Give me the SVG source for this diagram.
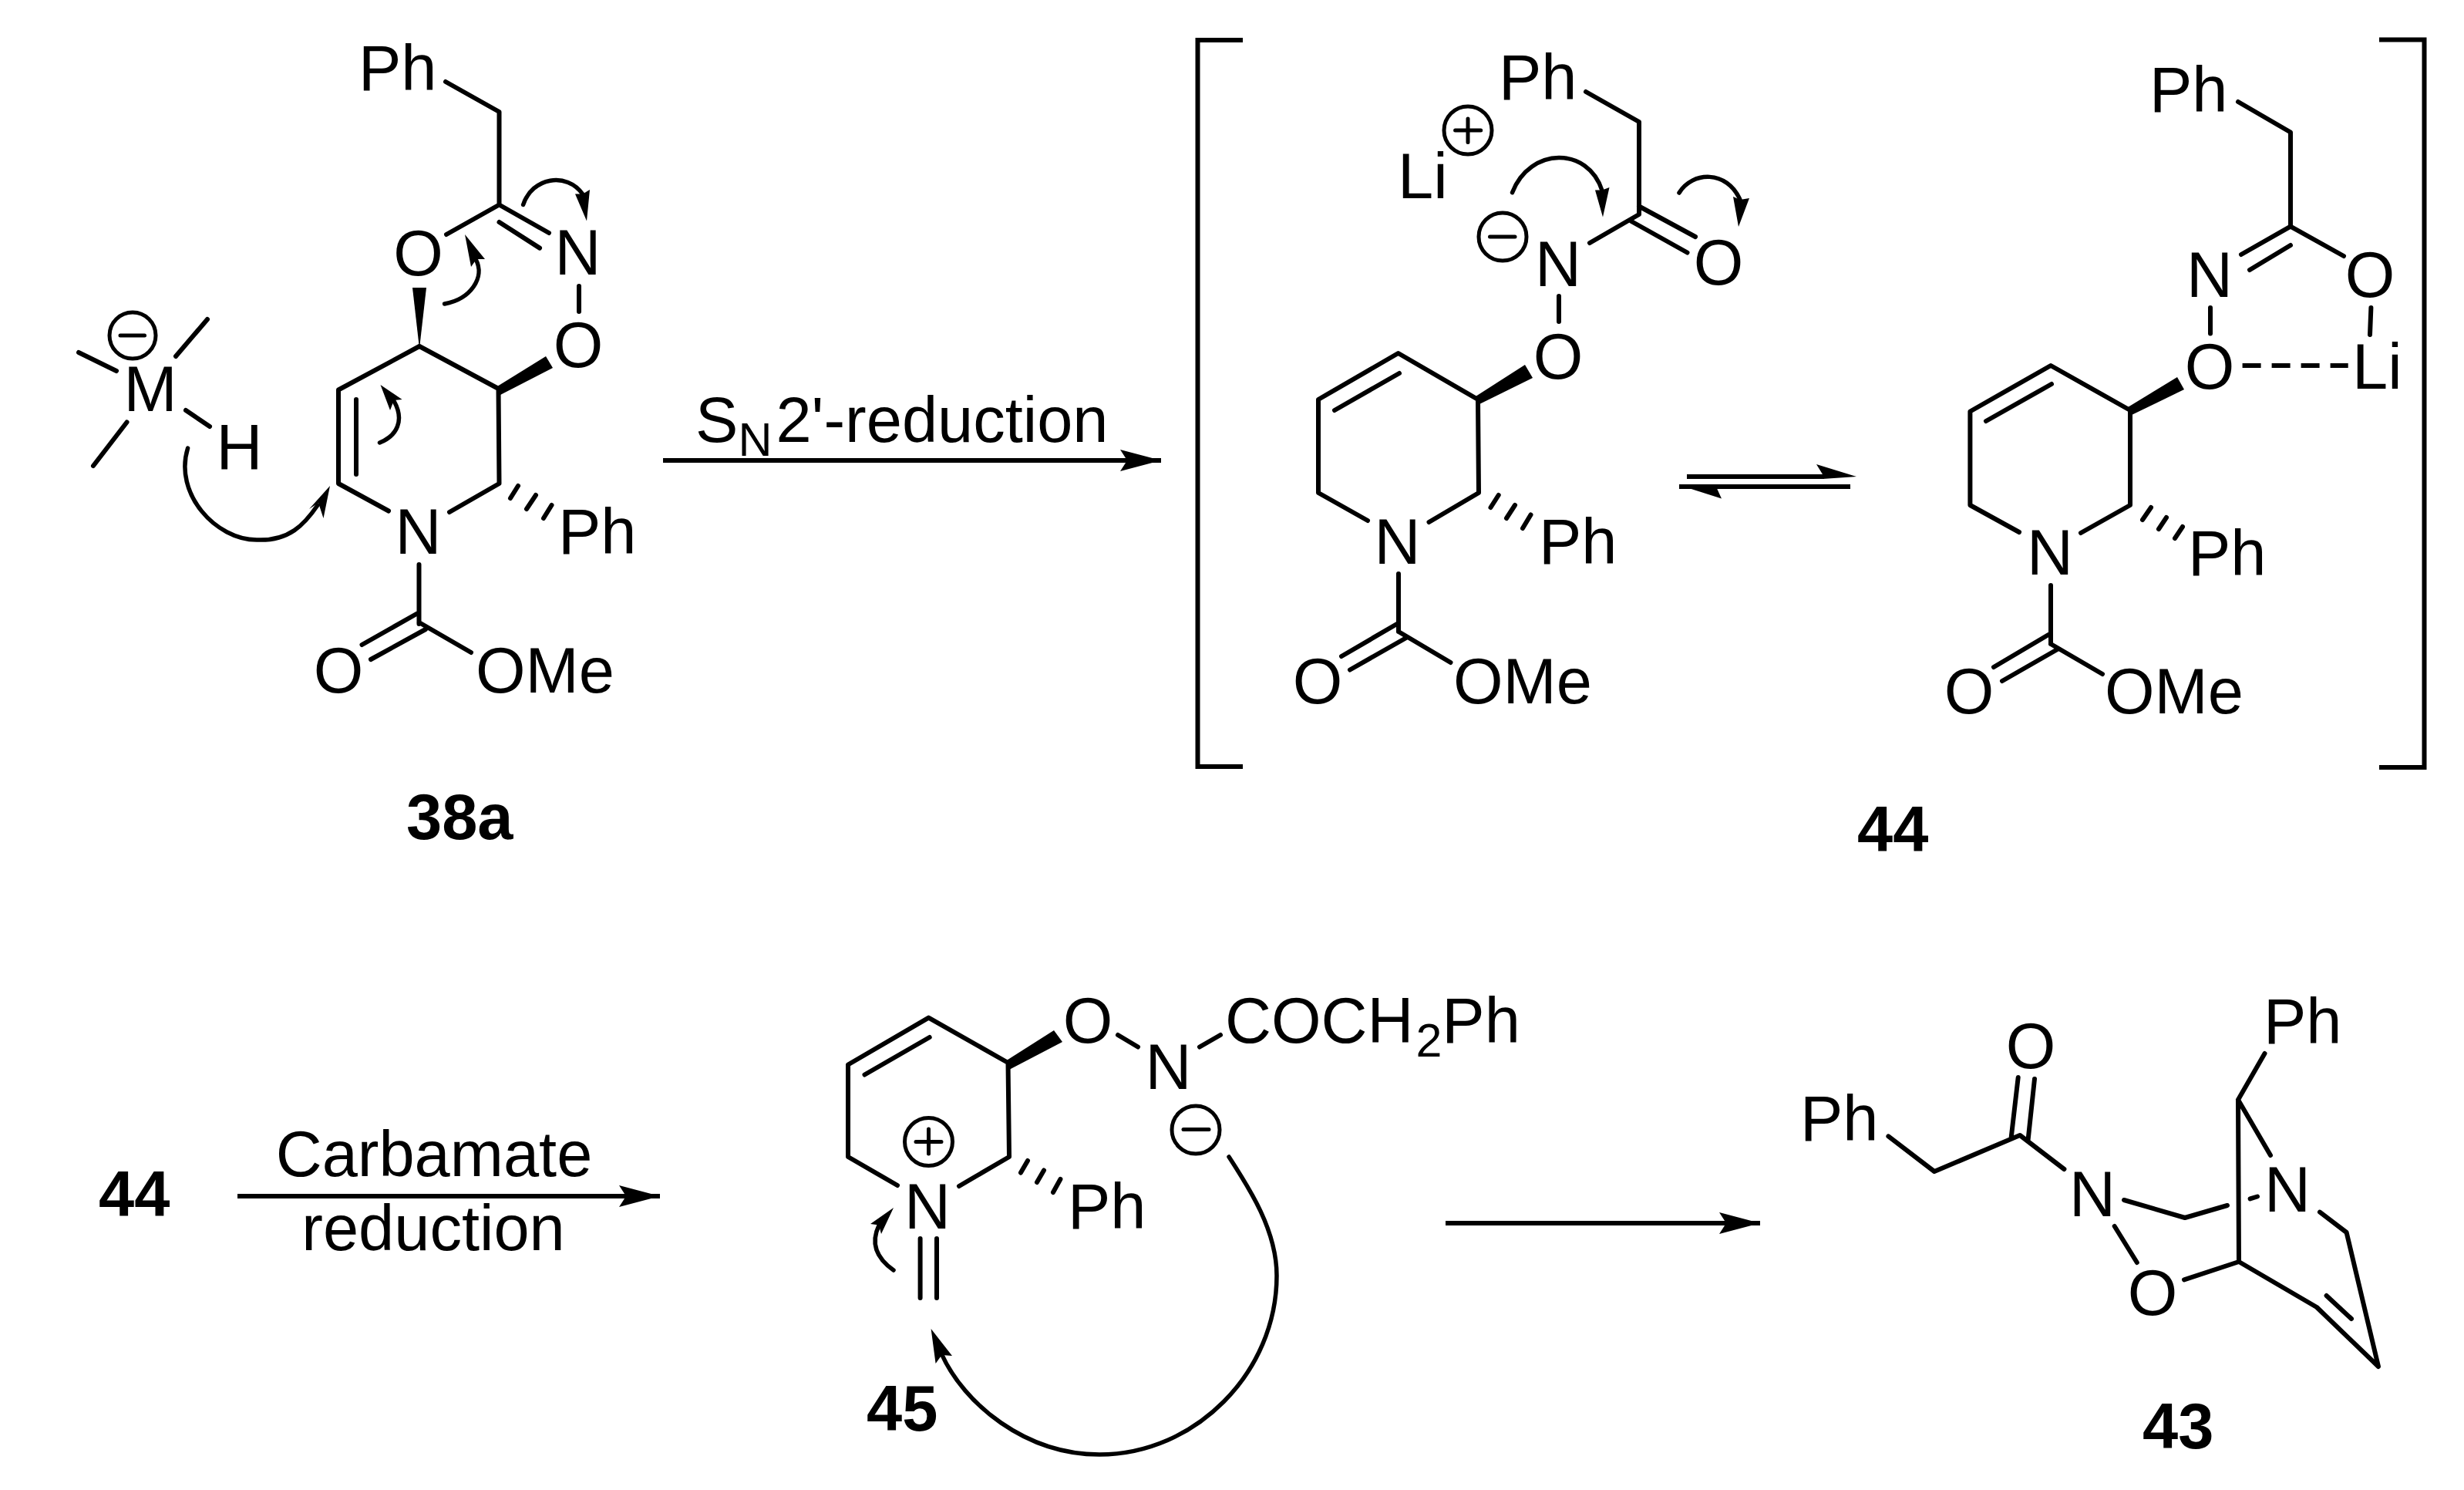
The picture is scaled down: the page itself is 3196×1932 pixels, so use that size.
<svg xmlns="http://www.w3.org/2000/svg" width="3196" height="1932" viewBox="0 0 3196 1932">
<style>
text{font-family:"Liberation Sans",Arial,sans-serif;font-size:83px;fill:#000}
.m{text-anchor:middle}
.b{font-weight:bold}
.s{font-size:61px}
.bond{fill:none;stroke:#000;stroke-width:6;stroke-linecap:round;stroke-linejoin:round}
.rx{fill:none;stroke:#000;stroke-width:6}
.w{fill:#000;stroke:none}
.chg{fill:none;stroke:#000;stroke-width:5}
.chl{fill:none;stroke:#000;stroke-width:5;stroke-linecap:round}
.sq{fill:none;stroke:#000;stroke-width:6;stroke-linejoin:miter}
.cur{fill:none;stroke:#000;stroke-width:5.5;stroke-linecap:round}
.hd{fill:#000;stroke:none}
</style>
<defs>
<marker id="ah" markerUnits="userSpaceOnUse" markerWidth="56" markerHeight="32" refX="53" refY="16" orient="auto"><path d="M0,2 L53,16 L0,30 L9,16 Z" fill="#000"/></marker>
</defs>
<rect width="3196" height="1932" fill="#fff"/>

<g id="node-38a">
<path class="bond" d="M578,106 L647.5,145 L647.5,265.5 L579,304 M647.5,265.5 L712,302 M647.5,288 L700,321.6 M751,371 L751,404"/>
<path class="bond" d="M544,449 L646.5,504 L647.5,627 L583,664 M504,662.5 L439,627 L439,505.5 L544,449 M462,518 L462,615"/>
<path class="bond" d="M543.5,732 L543.5,809 M542,795 L469.5,836 M552,816 L481,855 M543.5,807 L611,846"/>
<path class="bond" d="M662,646 L672,630 M683,660 L695,642 M705,672 L715.5,655"/>
<polygon class="w" points="544,452 535,373 553,373"/>
<polygon class="w" points="645,501 708,462 717,477 649,512"/>
<text x="465" y="117">Ph</text>
<text class="m" x="542.5" y="357">O</text>
<text class="m" x="749.5" y="356">N</text>
<text class="m" x="750" y="476">O</text>
<text class="m" x="542.5" y="718">N</text>
<text x="724" y="718">Ph</text>
<text class="m" x="439" y="898">O</text>
<text x="617" y="898">OMe</text>
<text class="m" x="195" y="533">M</text>
<text class="m" x="310.5" y="609">H</text>
<circle class="chg" cx="172" cy="435" r="30"/>
<path class="chl" d="M156,435 L187.5,435"/>
<path class="bond" d="M102,457 L151,481 M269,414 L228,462 M164.5,547.5 L121,604 M241,532 L272,553"/>
<text class="b" x="527" y="1088">38a</text>
</g>

<g id="node-44a">
<path class="sq" d="M1612,52 L1553.5,52 L1553.5,994 L1612,994"/>
<path class="bond" d="M2057,119 L2126,158 L2126,278 L2062,315 M2126,267.5 L2199,307 M2116,287 L2188.5,327.5 M2022,384 L2022,417"/>
<path class="bond" d="M1917,518 L1918,639 L1853.5,677 M1774,675 L1710,639 L1710,518 L1813.6,458 L1917,518 M1731,532 L1815,484"/>
<path class="bond" d="M1814,744 L1814,819 M1812,809 L1740,851 M1824,827 L1751,868.5 M1814,819 L1881.5,859"/>
<path class="bond" d="M1933.5,658 L1943.7,642 M1954,672 L1965,655 M1975,685 L1985.5,667.5"/>
<polygon class="w" points="1914,514 1978,473 1988,490 1919,524"/>
<text x="1944" y="129">Ph</text>
<text class="m" x="2229" y="369">O</text>
<text class="m" x="2021" y="371">N</text>
<text class="m" x="2021" y="491">O</text>
<text class="m" x="1812.6" y="731">N</text>
<text x="1996" y="731">Ph</text>
<text class="m" x="1709" y="912">O</text>
<text x="1885" y="912">OMe</text>
<text x="1813" y="257">Li</text>
<circle class="chg" cx="1904" cy="169" r="31"/>
<path class="chl" d="M1887.6,169 L1920.7,169 M1904,154 L1904,184.6"/>
<circle class="chg" cx="1949" cy="307" r="31"/>
<path class="chl" d="M1932.5,307 L1965,307"/>
</g>

<g id="node-44b">
<path class="sq" d="M3086,51.5 L3144.5,51.5 L3144.5,995 L3086,995"/>
<path class="bond" d="M2903,132 L2971,171.5 L2971,293.6 L2907,330 M2971,318 L2918,350 M2971,293.6 L3040,332 M2867,399 L2867,432.5 M3075.4,399 L3074,434"/>
<path class="bond" d="M2763,532 L2763,655 L2699,691 M2619,690 L2555.4,655 L2555.4,533.5 L2660,474 L2763,532 M2576,546 L2661,498"/>
<path class="bond" d="M2660,759 L2660,835 M2657,823 L2586,865 M2668.6,842 L2597,883 M2660,835 L2727,874"/>
<path class="bond" d="M2779,674 L2790,658 M2800,686 L2810,671 M2821,698 L2831,683"/>
<path class="rx" d="M2908.6,474 L3045.7,474" stroke-dasharray="24 14"/>
<polygon class="w" points="2760,528 2824,489 2833,505 2765,538"/>
<text x="2788" y="145">Ph</text>
<text class="m" x="3074" y="385">O</text>
<text class="m" x="2866" y="385">N</text>
<text class="m" x="2866" y="504">O</text>
<text class="m" x="2659" y="745">N</text>
<text x="2838" y="746">Ph</text>
<text class="m" x="2554" y="925">O</text>
<text x="2730" y="925">OMe</text>
<text x="3051" y="504">Li</text>
<text class="b" x="2409" y="1104">44</text>
</g>

<g id="node-44-ref">
<text class="b" x="128" y="1577">44</text>
</g>

<g id="node-45">
<path class="bond" d="M1164,1537 L1100,1500 L1100,1380.5 L1204.5,1319.6 L1307.5,1378 L1309,1500 L1244,1538 M1121.5,1393.5 L1205.7,1345"/>
<path class="bond" d="M1450,1342 L1476,1357.5 M1556,1357.5 L1583,1342 M1193.6,1606 L1193.6,1683 M1215,1606 L1215,1683"/>
<path class="bond" d="M1333,1505 L1324,1520.6 M1354,1517.5 L1345,1533 M1375.4,1529 L1366,1546"/>
<polygon class="w" points="1304,1376 1367,1336 1378,1351 1309,1387"/>
<text class="m" x="1411" y="1352">O</text>
<text class="m" x="1515.6" y="1412">N</text>
<text x="1589" y="1352">COCH<tspan class="s" dx="3" dy="18">2</tspan><tspan dy="-18">Ph</tspan></text>
<text class="m" x="1203" y="1593">N</text>
<text x="1385" y="1593">Ph</text>
<circle class="chg" cx="1204.5" cy="1480.5" r="31"/>
<path class="chl" d="M1188,1480.5 L1221,1480.5 M1204.5,1464 L1204.5,1496"/>
<circle class="chg" cx="1551" cy="1465" r="31"/>
<path class="chl" d="M1535,1464.5 L1568,1464.5"/>
<text class="b" x="1124" y="1855">45</text>
</g>

<g id="node-43">
<path class="bond" d="M2449.4,1473.4 L2509,1519 L2620,1472 L2677.4,1516 M2608.5,1476.4 L2617.7,1397 M2630.5,1478.6 L2639,1399 M2742.7,1590 L2771.8,1637"/>
<path class="bond" d="M2833,1659.4 L2904,1636 L3005,1695 L3085,1772 L3043.6,1598 L3009,1571.6 M3017.6,1680 L3050,1710"/>
<path class="bond" d="M2904,1636 L2903,1426 L2937.5,1366 M2903,1426 L2945,1498 M2755,1556 L2834,1579 L2889,1563 M2918.6,1554.4 L2928,1551.5"/>
<text x="2335" y="1479">Ph</text>
<text class="m" x="2634" y="1385">O</text>
<text class="m" x="2714" y="1577">N</text>
<text class="m" x="2792" y="1705">O</text>
<text class="m" x="2967" y="1571">N</text>
<text x="2936" y="1353">Ph</text>
<text class="b" x="2779" y="1878">43</text>
</g>

<g id="connectors">
<line class="rx" x1="860" y1="597" x2="1506" y2="597" marker-end="url(#ah)"/>
<line class="rx" x1="308" y1="1551" x2="856" y2="1551" marker-end="url(#ah)"/>
<line class="rx" x1="1875" y1="1586" x2="2283" y2="1586" marker-end="url(#ah)"/>
<path class="rx" d="M2188,618 L2366,618 M2178,631 L2400,631"/>
<polygon class="hd" points="2408,618 2356,602 2364,615 2364,621"/>
<polygon class="hd" points="2178,629 2233,646.5 2225,629"/>

<path class="cur" d="M243.6,581 C225,640 280,700 333,700 C375,702 395,680 412,655"/>
<polygon class="hd" points="428,630 401,660 413,652 419.5,672"/>
<path class="cur" d="M492.5,574 C515,565 525,545 511,520"/>
<polygon class="hd" points="493.5,499 521.6,518 511,519 506,532"/>
<path class="cur" d="M576.6,394 C610,388 630,360 617,336"/>
<polygon class="hd" points="603,304 629,336 618,336 611,346"/>
<path class="cur" d="M678.6,265.5 C690,230 735,222 756,252"/>
<polygon class="hd" points="761,286.6 746,251.5 756,251.5 765,246"/>
<path class="cur" d="M1961.5,249.7 C1985,190 2060,190 2078,247"/>
<polygon class="hd" points="2079,281.6 2069,246.5 2078,246.5 2087.5,243"/>
<path class="cur" d="M2178,250 C2195,222 2240,220 2257,259"/>
<polygon class="hd" points="2255,294 2248,255 2257,259 2269,257"/>
<path class="cur" d="M1159,1647 C1135,1630 1130,1610 1140,1589"/>
<polygon class="hd" points="1159,1566 1129,1587 1140,1588.5 1143,1600"/>
<path class="cur" d="M1594,1500 C1620,1540 1656,1595 1656,1654 C1656,1780 1550,1886 1426,1886 C1330,1886 1250,1820 1221,1755"/>
<polygon class="hd" points="1207.6,1723 1235,1758 1221.5,1757 1213.6,1768"/>
</g>

<g id="labels">
<text x="902" y="573">S<tspan class="s" dy="18">N</tspan><tspan dx="5" dy="-18">2'-reduction</tspan></text>
<text class="m" x="563" y="1525">Carbamate</text>
<text class="m" x="562" y="1621">reduction</text>
</g>
</svg>
